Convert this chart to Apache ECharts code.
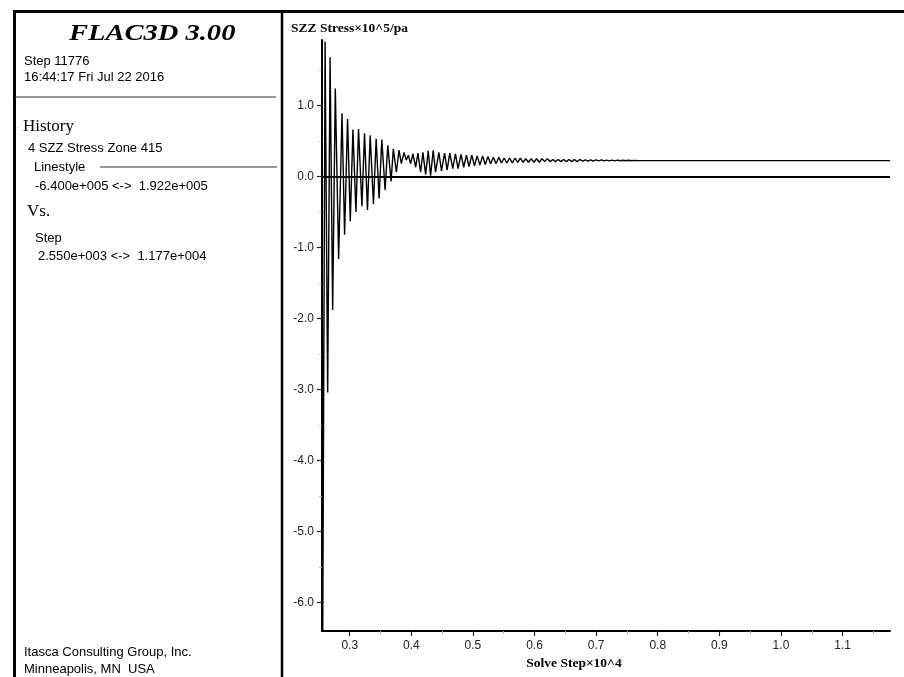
<!DOCTYPE html>
<html>
<head>
<meta charset="utf-8">
<title>SZZ Stress history</title>
<script src="https://cdn.jsdelivr.net/npm/echarts@6/dist/echarts.min.js"></script>
<style>
  html, body { margin: 0; padding: 0; background: #fff; }
  #chart { width: 904px; height: 677px; }
</style>
</head>
<body>
<div id="chart"></div>
<script>
// Zone 415 SZZ stress history (units of 1e5 Pa) against solve step.
const stepValues = [
  2550, 2562, 2600, 2642, 2681, 2723, 2766, 2820, 2875, 2917,
  2965, 3009, 3052, 3101, 3143, 3198, 3240, 3288, 3332, 3385,
  3429, 3477, 3521, 3574, 3618, 3671, 3708, 3757, 3800, 3838,
  3881, 3918, 3951, 3989, 4027, 4070, 4107, 4151, 4188, 4232,
  4274, 4313, 4355, 4393, 4447, 4490, 4539, 4581, 4624, 4673,
  4716, 4758, 4807, 4850, 4894, 4937, 4981, 5025, 5069, 5113,
  5157, 5200, 5244, 5288, 5332, 5376, 5420, 5463, 5507, 5551,
  5595, 5639, 5683, 5727, 5770, 5814, 5858, 5902, 5946, 5990,
  6033, 6077, 6121, 6165, 6209, 6253, 6296, 6340, 6384, 6428,
  6472, 6516, 6560, 6603, 6647, 6691, 6735, 6779, 6823, 6866,
  6910, 6954, 6998, 7042, 7086, 7129, 7173, 7217, 7261, 7305,
  7349, 7392, 7436, 7480, 7524, 7570, 7620, 7700, 11770
];
const szzValues = [
  1.922, -6.40, 1.90, -3.04, 1.68, -1.88, 1.24, -1.16, 0.89, -0.82,
  0.81, -0.63, 0.66, -0.50, 0.67, -0.42, 0.61, -0.47, 0.58, -0.39,
  0.53, -0.31, 0.52, -0.19, 0.44, -0.07, 0.39, 0.06, 0.37, 0.18,
  0.34, 0.23, 0.30, 0.18, 0.32, 0.13, 0.33, 0.06, 0.34, 0.03,
  0.36, 0.01, 0.37, 0.06, 0.34, 0.08, 0.33, 0.09, 0.33, 0.11,
  0.32, 0.11, 0.31, 0.13, 0.30, 0.14, 0.30, 0.15, 0.29, 0.16,
  0.29, 0.17, 0.28, 0.18, 0.27, 0.18, 0.27, 0.19, 0.26, 0.19,
  0.26, 0.19, 0.26, 0.20, 0.26, 0.20, 0.25, 0.20, 0.25, 0.20,
  0.25, 0.20, 0.25, 0.21, 0.25, 0.21, 0.24, 0.21, 0.24, 0.21,
  0.24, 0.21, 0.24, 0.21, 0.24, 0.21, 0.24, 0.215, 0.235, 0.215,
  0.235, 0.215, 0.235, 0.22, 0.235, 0.22, 0.23, 0.22, 0.23, 0.22,
  0.23, 0.222, 0.228, 0.222, 0.228, 0.222, 0.226, 0.224, 0.224
];

// Axis ranges and tick positions
const stepRange = [2550, 11770];
const stressRange = [-6.4, 1.922];
const xTickValues = [3000, 4000, 5000, 6000, 7000, 8000, 9000, 10000, 11000];
const xMinorValues = [3500, 4500, 5500, 6500, 7500, 8500, 9500, 10500, 11500];
const yTickValues = [-6, -5, -4, -3, -2, -1, 0, 1];
const yMinorValues = [-5.5, -4.5, -3.5, -2.5, -1.5, -0.5, 0.5, 1.5];

// Panel text
const titleText = 'FLAC3D 3.00';
const infoLines = ['Step 11776', '16:44:17 Fri Jul 22 2016'];
const historyLabel = 'History';
const historyItem = '4 SZZ Stress Zone 415';
const linestyleLabel = 'Linestyle';
const stressSpan = '-6.400e+005 <->  1.922e+005';
const vsLabel = 'Vs.';
const stepLabel = 'Step';
const stepSpan = '2.550e+003 <->  1.177e+004';
const footerLines = ['Itasca Consulting Group, Inc.', 'Minneapolis, MN  USA'];
const yTitle = 'SZZ Stress×10^5/pa';
const xTitle = 'Solve Step×10^4';

const sans = '"Liberation Sans", Arial, sans-serif';
const serif = '"Liberation Serif", "Times New Roman", serif';

const seriesData = stepValues.map((s, i) => [s, szzValues[i]]);

function txt(text, x, y, font, extra) {
  return Object.assign({
    type: 'text', x: x, y: y, silent: true,
    style: { text: text, font: font, fill: '#000', textAlign: 'left', textVerticalAlign: 'middle' }
  }, extra || {});
}
function seg(x1, y1, x2, y2, w, c) {
  return {
    type: 'line', silent: true,
    shape: { x1: x1, y1: y1, x2: x2, y2: y2 },
    style: { stroke: c || '#000', lineWidth: w }
  };
}

const chart = echarts.init(document.getElementById('chart'), null, { renderer: 'canvas' });

const baseAxisCommon = {
  type: 'value',
  splitLine: { show: false },
  minorTick: { show: false },
  minorSplitLine: { show: false }
};

chart.setOption({
  animation: false,
  backgroundColor: '#fff',
  grid: { left: 322, right: 14, top: 40, bottom: 46, containLabel: false, outerBoundsMode: 'none' },
  xAxis: [
    Object.assign({}, baseAxisCommon, {
      min: stepRange[0], max: stepRange[1], position: 'bottom',
      axisLine: { show: true, onZero: false, lineStyle: { color: '#000', width: 2 } },
      axisTick: { show: true, inside: false, length: 5, customValues: xTickValues,
                  lineStyle: { color: '#222', width: 1.2 } },
      axisLabel: { show: true, margin: 9, customValues: xTickValues, color: '#222',
                   fontFamily: sans, fontSize: 12,
                   formatter: v => (v / 10000).toFixed(1) }
    }),
    Object.assign({}, baseAxisCommon, {
      min: stepRange[0], max: stepRange[1], position: 'bottom', offset: 0,
      axisLine: { show: false, onZero: false },
      axisTick: { show: true, inside: false, length: 3, customValues: xMinorValues,
                  lineStyle: { color: '#aaa', width: 1 } },
      axisLabel: { show: false }
    })
  ],
  yAxis: [
    Object.assign({}, baseAxisCommon, {
      min: stressRange[0], max: stressRange[1], position: 'left',
      axisLine: { show: true, onZero: false, lineStyle: { color: '#000', width: 2 } },
      axisTick: { show: true, inside: false, length: 5, customValues: yTickValues,
                  lineStyle: { color: '#222', width: 1.2 } },
      axisLabel: { show: true, margin: 8, customValues: yTickValues, color: '#222',
                   fontFamily: sans, fontSize: 12,
                   formatter: v => v.toFixed(1) }
    }),
    Object.assign({}, baseAxisCommon, {
      min: stressRange[0], max: stressRange[1], position: 'left', offset: 0,
      axisLine: { show: false, onZero: false },
      axisTick: { show: true, inside: false, length: 3, customValues: yMinorValues,
                  lineStyle: { color: '#bbb', width: 1 } },
      axisLabel: { show: false }
    })
  ],
  series: [{
    name: historyItem,
    type: 'line',
    xAxisIndex: 0,
    yAxisIndex: 0,
    data: seriesData,
    showSymbol: false,
    symbol: 'none',
    clip: true,
    lineStyle: { color: '#000', width: 1.4 },
    markLine: {
      silent: true,
      symbol: ['none', 'none'],
      label: { show: false },
      lineStyle: { color: '#000', width: 2, type: 'solid' },
      data: [{ yAxis: 0 }]
    }
  }],
  graphic: [
    // frame
    seg(13, 11.5, 904, 11.5, 3),
    seg(14.5, 10, 14.5, 677, 3),
    seg(282, 10, 282, 677, 2.5),
    seg(15, 97, 276, 97, 1.2, '#333'),
    seg(100, 167, 277, 167, 1, '#333'),
    // left panel text
    txt(titleText, 69, 34, 'italic bold 23px ' + serif, { scaleX: 1.24 }),
    txt(infoLines[0], 24, 61, '13px ' + sans),
    txt(infoLines[1], 24, 77, '13px ' + sans),
    txt(historyLabel, 23, 127, '17px ' + serif),
    txt(historyItem, 28, 148, '13px ' + sans),
    txt(linestyleLabel, 34, 167, '13px ' + sans),
    txt(stressSpan, 35, 186.5, '13px ' + sans),
    txt(vsLabel, 27, 212, '17px ' + serif),
    txt(stepLabel, 35, 238, '13px ' + sans),
    txt(stepSpan, 38, 256.5, '13px ' + sans),
    txt(footerLines[0], 24, 652, '13px ' + sans),
    txt(footerLines[1], 24, 669, '13px ' + sans),
    // axis titles
    txt(yTitle, 291, 29, 'bold 13.5px ' + serif),
    txt(xTitle, 574, 664, 'bold 13.5px ' + serif, {
      style: { text: xTitle, font: 'bold 13.5px ' + serif, fill: '#000', textAlign: 'center', textVerticalAlign: 'middle' }
    })
  ]
});
</script>
</body>
</html>
